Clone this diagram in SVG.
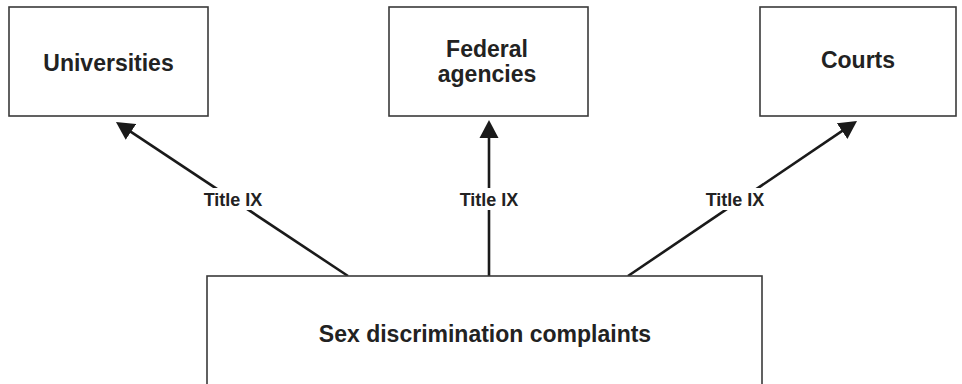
<svg xmlns="http://www.w3.org/2000/svg" width="962" height="384" viewBox="0 0 962 384">
<style>
.box{fill:#fff;stroke:#3a3a3a;stroke-width:1.6}
.lbl{font-family:"Liberation Sans",Arial,sans-serif;font-weight:bold;font-size:23px;fill:#222;text-anchor:middle}
.edge{stroke:#1a1a1a;stroke-width:2.6;fill:none;marker-end:url(#ah)}
.elbl{font-family:"Liberation Sans",Arial,sans-serif;font-weight:bold;font-size:18px;fill:#222;text-anchor:middle}
.bg{fill:#fff}
</style>
<defs>
<marker id="ah" markerUnits="userSpaceOnUse" markerWidth="18" markerHeight="20" refX="14" refY="9.5" orient="auto" viewBox="0 0 18 19">
<path d="M0,0 L18,9.5 L0,19 z" fill="#1a1a1a"/>
</marker>
</defs>
<rect width="962" height="384" fill="#fff"/>
<g id="connectors">
<line class="edge" x1="348" y1="276" x2="119.3" y2="124.2"/>
<line class="edge" x1="489" y1="276" x2="489" y2="124"/>
<line class="edge" x1="628" y1="276" x2="853.7" y2="123.2"/>
<rect class="bg" x="199" y="188" width="68" height="22"/>
<rect class="bg" x="455" y="188" width="68" height="22"/>
<rect class="bg" x="701" y="188" width="68" height="22"/>
<text class="elbl" x="233" y="206">Title IX</text>
<text class="elbl" x="489" y="206">Title IX</text>
<text class="elbl" x="735" y="206">Title IX</text>
</g>
<g id="universities">
<rect class="box" x="9" y="7" width="199" height="109"/>
<text class="lbl" x="108.5" y="71">Universities</text>
</g>
<g id="federal-agencies">
<rect class="box" x="389" y="7" width="199" height="109"/>
<text class="lbl" x="487" y="57">Federal</text>
<text class="lbl" x="487" y="82">agencies</text>
</g>
<g id="courts">
<rect class="box" x="760" y="7" width="196" height="109"/>
<text class="lbl" x="858" y="68">Courts</text>
</g>
<g id="complaints">
<rect class="box" x="207" y="276" width="555" height="120"/>
<text class="lbl" x="485" y="342">Sex discrimination complaints</text>
</g>
</svg>
